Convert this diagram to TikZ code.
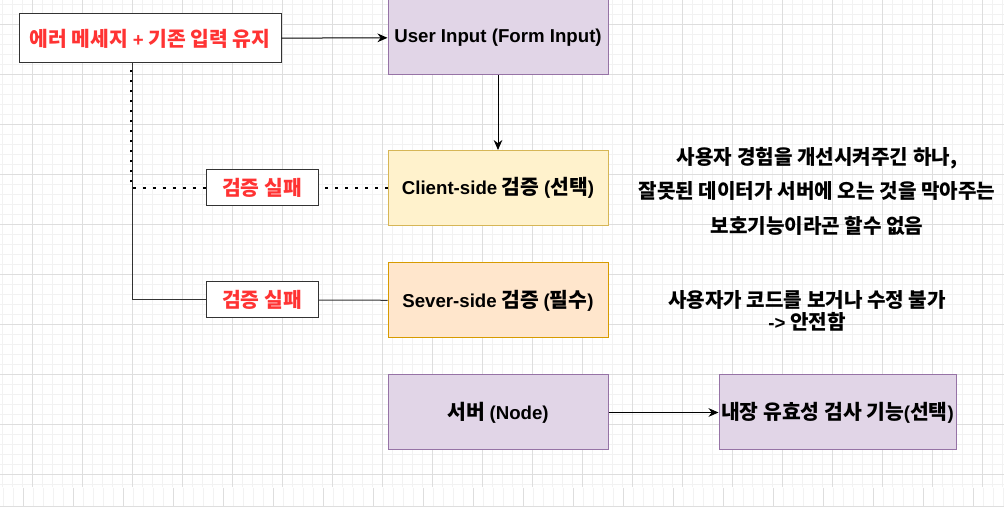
\documentclass[tikz,border=0pt]{standalone}
\usepackage{fontspec}
\setmainfont{Noto Sans CJK KR}
\newfontfamily\latfont{Liberation Sans}
\newcommand\lat[1]{{\fontsize{14}{16}\selectfont\latfont #1}}
\usetikzlibrary{arrows.meta}

\definecolor{purplefill}{HTML}{E1D5E7}
\definecolor{purpleline}{HTML}{9673A6}
\definecolor{yellowfill}{HTML}{FFF2CC}
\definecolor{yellowline}{HTML}{D6B656}
\definecolor{orangefill}{HTML}{FFE6CC}
\definecolor{orangeline}{HTML}{D79B00}
\definecolor{failred}{HTML}{FF3333}
\definecolor{gridminor}{HTML}{F2F2F2}
\definecolor{gridmajor}{HTML}{DEDEDE}

\begin{document}
\begin{tikzpicture}[x=0.75pt,y=-0.75pt,>={Stealth[length=7.5pt,width=6.5pt]},
  box/.style={draw,line width=0.75pt,minimum width=165pt,minimum height=56.25pt,inner sep=0pt,
    font=\fontsize{15.3}{18}\selectfont\bfseries},
  failbox/.style={draw=black!80,fill=white,line width=0.75pt,minimum width=84pt,minimum height=27pt,
    text=failred,font=\fontsize{15.3}{18}\selectfont\bfseries},
  note/.style={align=center,font=\fontsize{15.1}{25.9}\selectfont\bfseries},
  dotline/.style={line width=1.7pt,dash pattern=on 1.7pt off 5.8pt}]
  \useasboundingbox (0,0) rectangle (1004,509);
  \fill[white] (0,0) rectangle (1004,509);

  % background grid
  \foreach \gx in {2,12,...,1002} \draw[gridminor,line width=0.75pt] (\gx,0) -- (\gx,487);
  \foreach \gy in {5,15,...,485} \draw[gridminor,line width=0.75pt] (0,\gy) -- (1004,\gy);
  \foreach \gx in {32,82,...,982} \draw[gridmajor,line width=0.75pt] (\gx,0) -- (\gx,487);
  \foreach \gy in {25,75,...,475} \draw[gridmajor,line width=0.75pt] (0,\gy) -- (1004,\gy);
  \foreach \gx in {3,13,...,1003} \draw[gridminor,line width=0.75pt] (\gx,488) -- (\gx,507);
  \foreach \gx in {23,73,...,973} \draw[gridmajor,line width=0.75pt] (\gx,488) -- (\gx,507);
  \draw[gridmajor,line width=0.75pt] (0,507) -- (1004,507);

  \node[draw=black!80,fill=white,line width=0.75pt,minimum width=196.5pt,minimum height=36.75pt,
    text=failred,font=\fontsize{15.3}{18}\selectfont\bfseries] (err) at (150,38.5) {에러 메세지 \lat{+} 기존 입력 유지};
  \node[box,draw=purpleline,fill=purplefill] (input) at (498,37.5) {\lat{User Input (Form Input)}};
  \node[box,draw=yellowline,fill=yellowfill] (client) at (498,188) {\lat{Client-side} 검증 \lat{(}선택\lat{)}};
  \node[box,draw=orangeline,fill=orangefill] (sever) at (498,300.5) {\lat{Sever-side} 검증 \lat{(}필수\lat{)}};
  \node[box,draw=purpleline,fill=purplefill] (server) at (498,412.5) {서버 \lat{(Node)}};
  \node[box,draw=purpleline,fill=purplefill,minimum width=177.75pt] (builtin) at (837.5,412.5) {내장 유효성 검사 기능\lat{(}선택\lat{)}};

  \node[failbox] (fail1) at (262,188) {검증 실패};
  \node[failbox] (fail2) at (262,300) {검증 실패};
  \coordinate (turn1) at (131,188);
  \coordinate (turn2) at (132.5,300);

  \node[note] (note1) at (817,191) {사용자 경험을 개선시켜주긴 하나,\\잘못된 데이터가 서버에 오는 것을 막아주는\\보호기능이라곤 할수 없음};
  \node[note,font=\fontsize{15.1}{16.5}\selectfont\bfseries] (note2) at (807,311) {사용자가 코드를 보거나 수정 불가\\\lat{->} 안전함};

  \draw[->,line width=0.75pt] (err) -- (input);
  \draw[->,line width=0.75pt] (input) -- (client);
  \draw[->,line width=0.75pt] (server) -- (builtin);

  \draw[black!80,line width=0.75pt] (sever) -- (fail2);
  \draw[black!80,line width=0.75pt] (fail2) -- (turn2) -- (turn2 |- err.south);
  \draw[dotline] (client) -- (fail1);
  \draw[dotline] (fail1) -- (turn1) -- (turn1 |- err.south);
\end{tikzpicture}
\end{document}
